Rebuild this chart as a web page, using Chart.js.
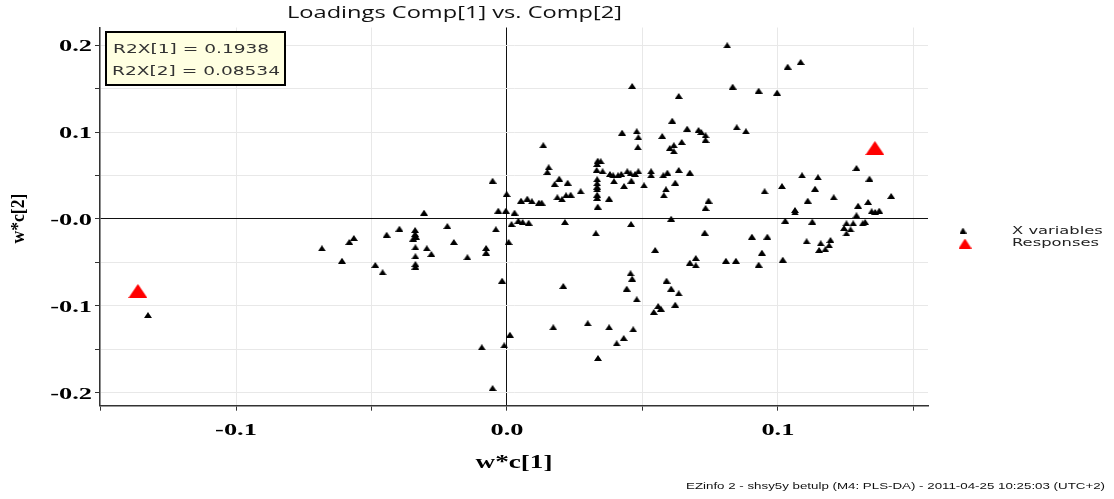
<!DOCTYPE html>
<html>
<head>
<meta charset="utf-8">
<script src="https://cdn.jsdelivr.net/npm/chart.js@4.4.0/dist/chart.umd.min.js"></script>
<style>
  html, body { margin: 0; padding: 0; background: #fff; }
  #chart { display: block; }
</style>
</head>
<body>
<canvas id="chart" width="1114" height="499"></canvas>
<script>
// Loadings Comp[1] vs. Comp[2]
const xVarX = [
  -0.1325, -0.0053, -0.0001, -0.0032, -0.0004, -0.0306, -0.0397, -0.0444, -0.0565, -0.0582,
  -0.0683, -0.0609, -0.0486, -0.0459, -0.0339, -0.0339, -0.0346, -0.0336, -0.0338, -0.0296,
  -0.0279, -0.0338, -0.0338, -0.0338, -0.0220, -0.0196, -0.0146, -0.0077, -0.0077, -0.0041,
  -0.0018, 0.0006, 0.0028, 0.0154, 0.0149, 0.0193, 0.0176, 0.0224, 0.0052, 0.0075,
  0.0092, 0.0118, 0.0128, 0.0186, 0.0203, 0.0218, 0.0235, 0.0272, 0.0335, 0.0346,
  0.0333, 0.0331, 0.0353, 0.0333, 0.0333, 0.0333, 0.0333, 0.0333, 0.0333, 0.0335,
  0.0377, 0.0380, 0.0392, 0.0410, 0.0422, 0.0395, 0.0432, 0.0444, 0.0456, 0.0473,
  0.0485, 0.0459, 0.0506, 0.0532, 0.0532, 0.0577, 0.0592, 0.0634, 0.0675, 0.0621,
  0.0587, 0.0579, 0.0744, 0.0733, 0.0017, 0.0042, 0.0058, 0.0080, 0.0214, 0.0458,
  0.0328, 0.0547, 0.0456, 0.0462, 0.0442, 0.0479, 0.0589, 0.0558, 0.0568, 0.0542,
  0.0208, 0.0171, 0.0298, 0.0377, 0.0466, 0.0431, 0.0405, 0.0011, -0.0010, -0.0093,
  0.0336, -0.0053, 0.0813, 0.0833, 0.0462, 0.0634, 0.0848, 0.0610, 0.0665, 0.0707,
  0.0717, 0.0733, 0.0733, 0.0425, 0.0479, 0.0485, 0.0573, 0.0645, 0.0616, 0.0601,
  0.0616, 0.0483, 0.0134, 0.0606, 0.1036, 0.1084, 0.0929, 0.0997, 0.0882, 0.1290,
  0.1338, 0.1089, 0.1148, 0.1015, 0.0951, 0.1137, 0.1418, 0.1206, 0.1110, 0.1333,
  0.1296, 0.1063, 0.1063, 0.1290, 0.1346, 0.1359, 0.1374, 0.1027, 0.1127, 0.1253,
  0.1278, 0.1313, 0.1322, 0.1244, 0.1268, 0.1253, 0.0730, 0.0904, 0.0961, 0.0941,
  0.1106, 0.1158, 0.1194, 0.1189, 0.1175, 0.1152, 0.0697, 0.0675, 0.0697, 0.0808,
  0.0845, 0.0929, 0.1018, 0.0606, 0.0634, 0.0621
];
const xVarY = [
  -0.1107, 0.0441, 0.0288, 0.0096, 0.0096, 0.0073, -0.0112, -0.0181, -0.0219, -0.0265,
  -0.0338, -0.0481, -0.0530, -0.0614, -0.0127, -0.0173, -0.0227, -0.0204, -0.0326, -0.0338,
  -0.0403, -0.0430, -0.0519, -0.0550, -0.0081, -0.0265, -0.0441, -0.0334, -0.0388, -0.0119,
  -0.0711, -0.0265, 0.0073, 0.0596, 0.0542, 0.0465, 0.0403, 0.0418, 0.0211, 0.0234,
  0.0204, 0.0188, 0.0188, 0.0250, 0.0227, 0.0273, 0.0280, 0.0319, 0.0672, 0.0665,
  0.0634, 0.0565, 0.0550, 0.0458, 0.0412, 0.0372, 0.0342, 0.0280, 0.0242, 0.0142,
  0.0234, 0.0519, 0.0504, 0.0504, 0.0519, 0.0435, 0.0380, 0.0550, 0.0527, 0.0519,
  0.0550, 0.0441, 0.0388, 0.0550, 0.0504, 0.0504, 0.0534, 0.0565, 0.0534, 0.0418,
  0.0342, 0.0273, 0.0211, 0.0127, -0.0058, -0.0020, -0.0035, -0.0043, -0.0035, -0.0058,
  -0.0165, -0.0357, -0.0626, -0.0688, -0.0803, -0.0926, -0.0711, -0.1003, -0.1034, -0.1072,
  -0.0772, -0.1248, -0.1202, -0.1248, -0.1271, -0.1372, -0.1433, -0.1334, -0.1456, -0.1479,
  -0.1602, -0.1948, 0.2002, 0.1525, 0.1533, 0.1418, 0.1057, 0.1133, 0.1041, 0.1026,
  0.1003, 0.0965, 0.0911, 0.0995, 0.1011, 0.0942, 0.0957, 0.0888, 0.0850, 0.0818,
  0.0780, 0.0827, 0.0850, 0.0003, 0.1756, 0.1810, 0.1479, 0.1456, 0.1011, 0.0588,
  0.0465, 0.0504, 0.0481, 0.0380, 0.0319, 0.0349, 0.0265, 0.0250, 0.0211, 0.0196,
  0.0153, 0.0104, 0.0075, 0.0043, 0.0089, 0.0081, 0.0096, -0.0020, -0.0031, -0.0050,
  -0.0050, -0.0050, -0.0035, -0.0104, -0.0121, -0.0167, -0.0158, -0.0204, -0.0204, -0.0388,
  -0.0257, -0.0280, -0.0242, -0.0303, -0.0349, -0.0357, -0.0450, -0.0504, -0.0534, -0.0481,
  -0.0481, -0.0527, -0.0469, -0.0803, -0.0857, -0.0988
];
const respX = [-0.1362, 0.1358];
const respY = [-0.0830, 0.0818];

const seriesNames = ['X variables', 'Responses'];
const r2xLines = ['R2X[1] = 0.1938', 'R2X[2] = 0.08534'];
const titleText = 'Loadings Comp[1] vs. Comp[2]';
const xTitle = 'w*c[1]';
const yTitle = 'w*c[2]';
const footerText = 'EZinfo 2 - shsy5y betulp (M4: PLS-DA) - 2011-04-25 10:25:03 (UTC+2)';

// triangle markers, a bit wider than tall like the original
function triMarker(w, h, color) {
    const c = document.createElement('canvas');
    c.width = w; c.height = h;
    const g = c.getContext('2d');
    g.fillStyle = color;
    g.beginPath();
    g.moveTo(w / 2, 0);
    g.lineTo(w, h);
    g.lineTo(0, h);
    g.closePath();
    g.fill();
    return c;
}
const blackTri = triMarker(8, 6, '#000');
const redTri = triMarker(19, 14, '#ff0000');
const blackTriLegend = triMarker(7, 6, '#000');
const redTriLegend = triMarker(13, 10, '#ff0000');

// draws text stretched horizontally (scale sx)
function sText(ctx, text, x, y, font, sx, align, baseline, color) {
    ctx.save();
    ctx.font = font;
    ctx.fillStyle = color || '#000';
    ctx.textAlign = align || 'left';
    ctx.textBaseline = baseline || 'middle';
    ctx.translate(x, y);
    ctx.scale(sx, 1);
    ctx.fillText(text, 0, 0);
    ctx.restore();
}
function fitScale(ctx, text, font, target) {
    ctx.save();
    ctx.font = font;
    const w = ctx.measureText(text).width;
    ctx.restore();
    return target / w;
}

const isTenth = v => Math.abs(Math.round(v * 10) - v * 10) < 1e-6;

const decorations = {
    id: 'decorations',
    afterDraw(chart) {
        const ctx = chart.ctx;
        const xs = chart.scales.x, ys = chart.scales.y;
        const tickFont = 'bold 16px "Liberation Serif"';
        const tsx = fitScale(ctx, '0.2', tickFont, 33);

        ys.ticks.forEach(t => {
            if (!isTenth(t.value)) return;
            const lbl = Math.abs(t.value) < 1e-9 ? '-0.0' : t.value.toFixed(1);
            sText(ctx, lbl, 92, ys.getPixelForValue(t.value) + 6, tickFont, tsx, 'right', 'alphabetic');
        });
        xs.ticks.forEach(t => {
            if (!isTenth(t.value)) return;
            const lbl = Math.abs(t.value) < 1e-9 ? '0.0' : t.value.toFixed(1);
            sText(ctx, lbl, xs.getPixelForValue(t.value), 435, tickFont, tsx, 'center', 'alphabetic');
        });

        // axis titles
        const axFont = 'bold 18px "Liberation Serif"';
        sText(ctx, xTitle, (xs.left + xs.right) / 2, 463, axFont, fitScale(ctx, xTitle, axFont, 77), 'center', 'middle');
        ctx.save();
        ctx.translate(19, (ys.top + ys.bottom) / 2 + 2);
        ctx.rotate(-Math.PI / 2);
        sText(ctx, yTitle, 0, 0, axFont, fitScale(ctx, yTitle, axFont, 50), 'center', 'middle');
        ctx.restore();

        // title
        const tFont = '17px "Open Sans"';
        sText(ctx, titleText, 454.5, 13, tFont, fitScale(ctx, titleText, tFont, 335), 'center', 'middle', '#111');

        // R2X box
        ctx.save();
        ctx.fillStyle = '#ffffe1';
        ctx.strokeStyle = '#000';
        ctx.lineWidth = 2;
        ctx.fillRect(106, 32, 179, 53);
        ctx.strokeRect(106, 32, 179, 53);
        ctx.restore();
        const bFont = '13px "DejaVu Sans"';
        const bsx = fitScale(ctx, r2xLines[1], bFont, 168);
        sText(ctx, r2xLines[0], 113, 49.5, bFont, bsx, 'left', 'middle', '#333');
        sText(ctx, r2xLines[1], 112, 71.5, bFont, bsx, 'left', 'middle', '#333');

        // legend
        const lFont = '10px "DejaVu Sans"';
        const lsx = fitScale(ctx, seriesNames[1], lFont, 87);
        ctx.drawImage(blackTriLegend, 963 - 3.5, 230.5 - 3);
        ctx.drawImage(redTriLegend, 965 - 6.5, 243.5 - 5);
        sText(ctx, seriesNames[0], 1012, 231, lFont, lsx, 'left', 'middle', '#222');
        sText(ctx, seriesNames[1], 1012, 243.5, lFont, lsx, 'left', 'middle', '#222');

        // footer
        const fFont = '9px "Liberation Sans"';
        sText(ctx, footerText, 1105, 487, fFont, fitScale(ctx, footerText, fFont, 419), 'right', 'middle', '#111');
    }
};

const gridColor = c => Math.abs(c.tick.value) < 1e-9 ? '#111' : '#e8e8e8';

new Chart(document.getElementById('chart'), {
    type: 'scatter',
    data: {
        datasets: [
            {
                label: seriesNames[0],
                data: xVarX.map((x, i) => ({ x: x, y: xVarY[i] })),
                pointStyle: blackTri,
                pointRadius: 4
            },
            {
                label: seriesNames[1],
                data: respX.map((x, i) => ({ x: x, y: respY[i] })),
                pointStyle: redTri,
                pointRadius: 9
            }
        ]
    },
    options: {
        responsive: false,
        animation: false,
        devicePixelRatio: 1,
        layout: { padding: { top: 27.5, right: 186, left: 0, bottom: 0 } },
        plugins: {
            legend: { display: false },
            tooltip: { enabled: false },
            title: { display: false }
        },
        scales: {
            x: {
                type: 'linear',
                min: -0.1502,
                max: 0.1554,
                ticks: { stepSize: 0.05, display: false, includeBounds: false },
                grid: { color: gridColor, tickColor: '#333', tickLength: 5, lineWidth: 1 },
                border: { color: '#333', width: 1.5 },
                afterFit: s => { s.height = 93.3; }
            },
            y: {
                type: 'linear',
                min: -0.2152,
                max: 0.2207,
                ticks: { stepSize: 0.05, display: false, includeBounds: false },
                grid: { color: gridColor, tickColor: '#333', tickLength: 5, lineWidth: 1 },
                border: { color: '#333', width: 1.5 },
                afterFit: s => { s.width = 100; }
            }
        }
    },
    plugins: [decorations]
});
</script>
</body>
</html>
